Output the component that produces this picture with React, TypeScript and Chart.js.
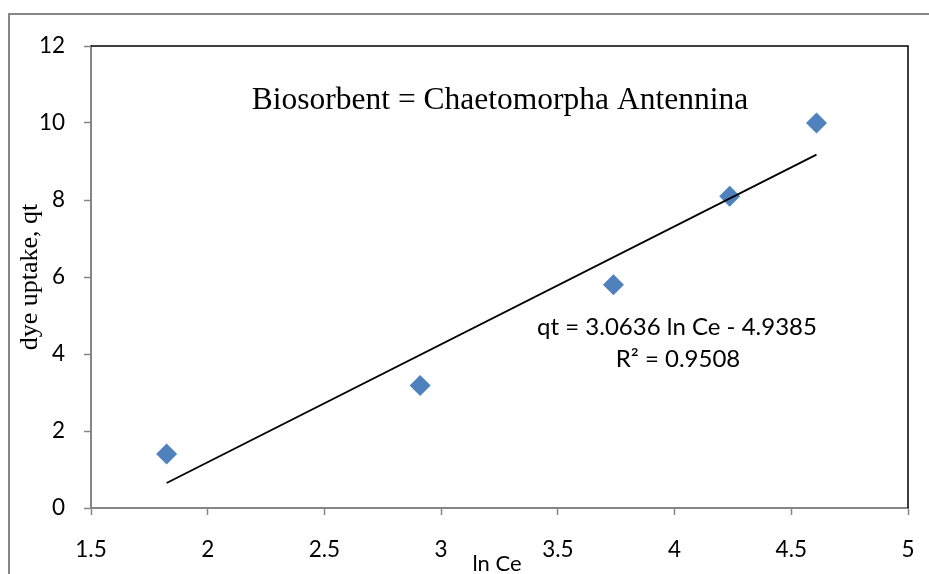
import React, { useEffect, useRef } from "react";
import { Chart, registerables } from "chart.js";

Chart.register(...registerables);

// ---- data ----
const lnCe = [1.824, 2.91, 3.738, 4.236, 4.608];
const qt = [1.4, 3.18, 5.8, 8.1, 10.0];
const xTicks = [1.5, 2, 2.5, 3, 3.5, 4, 4.5, 5];
const yTicks = [0, 2, 4, 6, 8, 10, 12];
const slope = 3.0636;
const intercept = -4.9385;
const rSquared = 0.9508;
const chartTitle = "Biosorbent = Chaetomorpha Antennina";
const xTitle = "ln Ce";
const yTitle = "dye uptake, qt";
const eqText = `qt = ${slope.toFixed(4)} ln Ce - ${Math.abs(intercept).toFixed(4)}`;
const r2Text = `R\u00B2 = ${rSquared.toFixed(4)}`;

const trendX = [Math.min(...lnCe), Math.max(...lnCe)];
const trendPoints = trendX.map((x) => ({ x, y: slope * x + intercept }));
const points = lnCe.map((x, i) => ({ x, y: qt[i] }));

const AXIS_GRAY = "#868686";
const SANS = "Lato, 'Open Sans', sans-serif";
const SERIF = "'Liberation Serif', 'Times New Roman', serif";

const decorPlugin = {
  id: "decor",
  afterDraw(chart: any) {
    const ctx = chart.ctx as CanvasRenderingContext2D;
    const a = chart.chartArea;
    ctx.save();
    // outer chart frame (left + top)
    ctx.strokeStyle = AXIS_GRAY;
    ctx.lineWidth = 2;
    ctx.beginPath();
    ctx.moveTo(9, 574);
    ctx.lineTo(9, 14);
    ctx.lineTo(929, 14);
    ctx.stroke();
    // plot area top/right border
    ctx.strokeStyle = "#000";
    ctx.lineWidth = 1.5;
    ctx.beginPath();
    ctx.moveTo(a.left, a.top);
    ctx.lineTo(a.right, a.top);
    ctx.lineTo(a.right, a.bottom);
    ctx.stroke();

    ctx.fillStyle = "#000";
    // title inside plot
    ctx.font = `31.5px ${SERIF}`;
    ctx.textAlign = "center";
    ctx.textBaseline = "alphabetic";
    ctx.fillText(chartTitle, 500, 109);
    // equation
    ctx.font = `24px ${SANS}`;
    ctx.fillText(eqText, 677, 335);
    ctx.fillText(r2Text, 678, 367);
    // x title
    ctx.font = `22px ${SANS}`;
    ctx.fillText(xTitle, 497, 571);
    // y title
    ctx.save();
    ctx.translate(30, 277);
    ctx.rotate(-Math.PI / 2);
    ctx.font = `26px ${SERIF}`;
    ctx.textBaseline = "middle";
    ctx.fillText(yTitle, 0, 0);
    ctx.restore();
    ctx.restore();
  },
};

export default function App() {
  const ref = useRef<HTMLCanvasElement | null>(null);
  useEffect(() => {
    if (!ref.current) return;
    const chart = new Chart(ref.current, {
      type: "scatter",
      data: {
        datasets: [
          {
            type: "line",
            data: trendPoints,
            borderColor: "#000",
            borderWidth: 1.8,
            pointRadius: 0,
            showLine: true,
            fill: false,
            order: 0,
          } as any,
          {
            data: points,
            pointStyle: "rectRot",
            pointRadius: 10.5,
            pointHoverRadius: 10.5,
            backgroundColor: "#4F81BD",
            borderColor: "#4F81BD",
            borderWidth: 0,
            order: 1,
          },
        ],
      },
      options: {
        animation: false,
        responsive: true,
        maintainAspectRatio: false,
        layout: { padding: { top: 46, right: 21, left: 0, bottom: 0 } },
        plugins: { legend: { display: false }, tooltip: { enabled: false } },
        scales: {
          x: {
            type: "linear",
            min: 1.5,
            max: 5,
            afterBuildTicks: (s: any) => {
              s.ticks = xTicks.map((v) => ({ value: v }));
            },
            afterFit: (s: any) => {
              s.height = 66;
              s.paddingLeft = 0;
              s.paddingRight = 0;
            },
            grid: {
              drawOnChartArea: false,
              drawTicks: true,
              tickLength: 7,
              tickColor: AXIS_GRAY,
              tickWidth: 1.5,
            },
            border: { color: AXIS_GRAY, width: 2 },
            ticks: {
              color: "#000",
              font: { family: SANS, size: 22.5 },
              padding: 21,
              maxRotation: 0,
              autoSkip: false,
              callback: (v: any) => String(v),
            },
          },
          y: {
            type: "linear",
            min: 0,
            max: 12,
            afterBuildTicks: (s: any) => {
              s.ticks = yTicks.map((v) => ({ value: v }));
            },
            afterFit: (s: any) => {
              s.width = 91;
              s.paddingTop = 0;
              s.paddingBottom = 0;
            },
            grid: {
              drawOnChartArea: false,
              drawTicks: true,
              tickLength: 7,
              tickColor: AXIS_GRAY,
              tickWidth: 1.5,
            },
            border: { color: AXIS_GRAY, width: 2 },
            ticks: {
              color: "#000",
              font: { family: SANS, size: 22.5 },
              padding: 19,
              autoSkip: false,
              callback: (v: any) => String(v),
            },
          },
        },
      },
      plugins: [decorPlugin],
    });
    return () => chart.destroy();
  }, []);
  return (
    <div style={{ position: "fixed", left: 0, top: 0, width: 929, height: 574, background: "#fff" }}>
      <canvas ref={ref} />
    </div>
  );
}
